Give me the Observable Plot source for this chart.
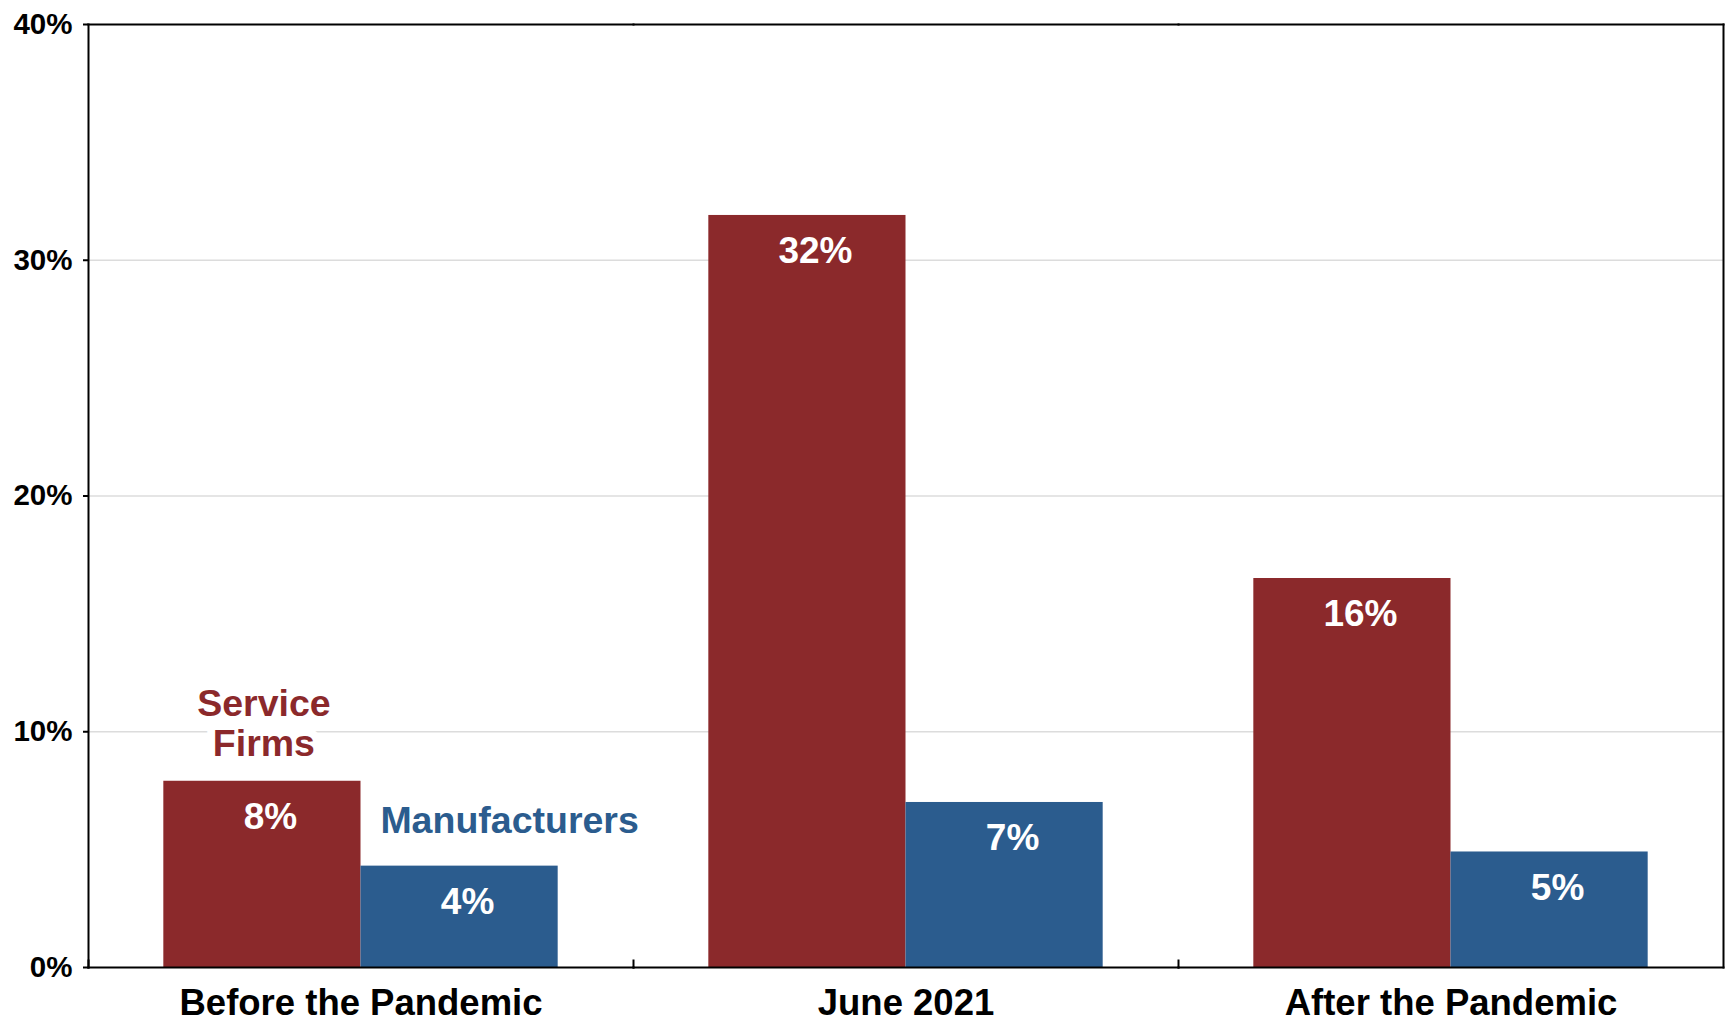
<!DOCTYPE html>
<html>
<head>
<meta charset="utf-8">
<script src="https://cdn.jsdelivr.net/npm/d3@7"></script>
<script src="https://cdn.jsdelivr.net/npm/@observablehq/plot@0.6"></script>
<style>
  html, body { margin: 0; padding: 0; background: #ffffff; }
  #chart svg { display: block; }
</style>
</head>
<body>
<div id="chart"></div>
<script>
// ---- Data ----
const categories = ["Before the Pandemic", "June 2021", "After the Pandemic"];
const seriesNames = ["Service Firms", "Manufacturers"];
const serviceValues = [7.9, 31.9, 16.5];
const manufacturerValues = [4.3, 7.0, 4.9];
const serviceLabels = ["8%", "32%", "16%"];
const manufacturerLabels = ["4%", "7%", "5%"];
const seriesLegendText = ["Service\nFirms", "Manufacturers"];
const yTicks = [0, 10, 20, 30, 40];
const gridTicks = [10, 20, 30];
const colors = ["#8B292B", "#2B5C8E"];

// ---- Table built from the arrays ----
const rows = [];
categories.forEach((c, i) => {
  rows.push({category: c, series: seriesNames[0], value: serviceValues[i], label: serviceLabels[i]});
  rows.push({category: c, series: seriesNames[1], value: manufacturerValues[i], label: manufacturerLabels[i]});
});
const legendService = rows.filter(d => d.category === categories[0] && d.series === seriesNames[0]);
const legendManuf = rows.filter(d => d.category === categories[0] && d.series === seriesNames[1]);

const FONT = "'Liberation Sans', Arial, Helvetica, sans-serif";

const chart = Plot.plot({
  width: 1729,
  height: 1025,
  marginLeft: 88,
  marginRight: 6,
  marginTop: 24,
  marginBottom: 58,
  style: {fontFamily: FONT, background: "#ffffff", color: "#000000"},
  fx: {domain: categories, paddingInner: 0, paddingOuter: 0, round: false, axis: null, label: null},
  x: {domain: seriesNames, paddingInner: 0, paddingOuter: 0.382, round: false, axis: null, label: null},
  y: {domain: [0, 40], axis: null, label: null},
  color: {domain: seriesNames, range: colors},
  marks: [
    Plot.gridY(gridTicks, {stroke: "#dcdcdc", strokeOpacity: 1, strokeWidth: 1.5}),
    Plot.barY(rows, {fx: "category", x: "series", y: "value", fill: "series"}),
    // chart frame
    Plot.frame({anchor: "top", stroke: "#000", strokeWidth: 2}),
    Plot.frame({anchor: "bottom", stroke: "#000", strokeWidth: 2}),
    Plot.frame({anchor: "left", facetAnchor: "left", stroke: "#000", strokeWidth: 2}),
    Plot.frame({anchor: "right", facetAnchor: "right", stroke: "#000", strokeWidth: 2}),
    // small category separator ticks on the bottom axis
    Plot.frame({anchor: "left", insetTop: 936, stroke: "#000", strokeWidth: 2}),
    // values inside the bars
    Plot.text(rows, {
      fx: "category", x: "series", y: "value", text: "label",
      fill: "#ffffff", fontSize: 37, fontWeight: "bold",
      lineAnchor: "middle", dy: 36, dx: 8
    }),
    // series labels
    Plot.text(legendService, {
      fx: "category", x: "series", y: "value", text: () => seriesLegendText[0],
      fill: colors[0], fontSize: 37.5, fontWeight: "bold", lineHeight: 1.07,
      lineAnchor: "bottom", dy: -25, dx: 1.5,
      stroke: "#ffffff", strokeWidth: 16
    }),
    Plot.text(legendManuf, {
      fx: "category", x: "series", y: "value", text: () => seriesLegendText[1],
      fill: colors[1], fontSize: 37.5, fontWeight: "bold",
      lineAnchor: "middle", dy: -45, dx: 50,
      stroke: "#ffffff", strokeWidth: 8
    }),
    // axes
    Plot.axisY({
      ticks: yTicks, tickFormat: d => `${d}%`, tickSize: 5, tickPadding: 11,
      stroke: "#000", strokeWidth: 2, fontSize: 29.5, fontWeight: "bold", label: null
    }),
    Plot.axisFx({
      anchor: "bottom", tickSize: 0, tickPadding: 22, fontSize: 36.5,
      fontWeight: "bold", label: null
    })
  ]
});

document.getElementById("chart").appendChild(chart);
</script>
</body>
</html>
